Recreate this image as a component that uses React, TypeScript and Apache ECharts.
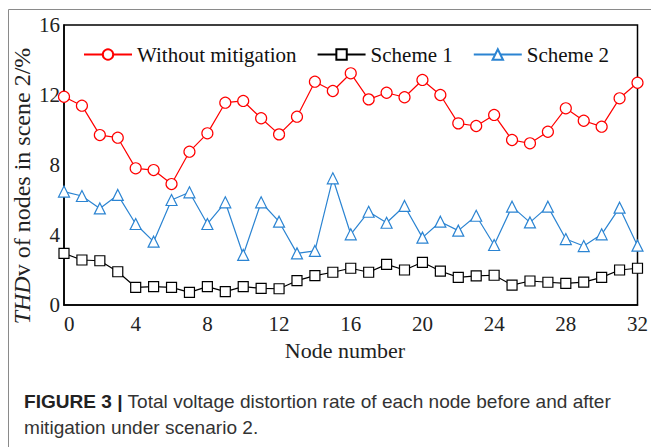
import React, { useEffect, useRef } from "react";
import * as echarts from "echarts";

const nodes = [0, 1, 2, 3, 4, 5, 6, 7, 8, 9, 10, 11, 12, 13, 14, 15, 16, 17, 18, 19, 20, 21, 22, 23, 24, 25, 26, 27, 28, 29, 30, 31, 32];

const withoutMitigation = [11.9, 11.39, 9.71, 9.56, 7.81, 7.71, 6.91, 8.76, 9.81, 11.56, 11.66, 10.67, 9.75, 10.76, 12.76, 12.23, 13.24, 11.75, 12.13, 11.87, 12.86, 12.0, 10.38, 10.23, 10.86, 9.43, 9.24, 9.9, 11.24, 10.53, 10.19, 11.81, 12.7];

const scheme1 = [2.95, 2.57, 2.53, 1.9, 1.01, 1.05, 1.01, 0.72, 1.05, 0.76, 1.05, 0.95, 0.93, 1.39, 1.68, 1.87, 2.1, 1.87, 2.32, 2.0, 2.44, 1.94, 1.58, 1.66, 1.7, 1.14, 1.37, 1.3, 1.24, 1.31, 1.58, 2.0, 2.1];

const scheme2 = [6.48, 6.23, 5.52, 6.29, 4.63, 3.62, 6.0, 6.44, 4.63, 5.87, 2.86, 5.87, 4.76, 2.95, 3.09, 7.24, 4.04, 5.33, 4.7, 5.66, 3.85, 4.76, 4.25, 5.1, 3.43, 5.62, 4.72, 5.62, 3.77, 3.37, 4.04, 5.56, 3.39];

const seriesNames = ["Without mitigation", "Scheme 1", "Scheme 2"];
const xTicks = { min: 0, max: 32, interval: 4 };
const yTicks = { min: 0, max: 16, interval: 4 };

const SERIF = "'Liberation Serif', 'Times New Roman', serif";
const SANS = "'Liberation Sans', Arial, sans-serif";

export default function App() {
  const ref = useRef<HTMLDivElement>(null);
  useEffect(() => {
    if (!ref.current) return;
    const chart = echarts.init(ref.current, null, { renderer: "svg" });
    const pair = (arr: number[]) => nodes.map((n, i) => [n, arr[i]]);
    const mk = (name: string, data: number[], color: string, symbol: string, size: number) => ({
      name,
      type: "line",
      data: pair(data),
      symbol,
      symbolSize: size,
      showAllSymbol: true,
      lineStyle: { color, width: 1.2 },
      itemStyle: { color: "#fff", borderColor: color, borderWidth: 1.2 },
      emphasis: { disabled: true },
      z: 3,
    });
    chart.setOption({
      animation: false,
      backgroundColor: "#fff",
      grid: {
        left: 64,
        right: 8,
        top: 25,
        bottom: 142,
        show: true,
        borderColor: "#000",
        borderWidth: 1.5,
        backgroundColor: "transparent",
      },
      legend: {
        data: seriesNames,
        left: 78,
        top: 39,
        itemWidth: 48,
        itemHeight: 13,
        itemGap: 20,
        textStyle: { fontFamily: SERIF, fontSize: 21, color: "#111" },
      },
      xAxis: {
        type: "value",
        min: xTicks.min,
        max: xTicks.max,
        interval: xTicks.interval,
        axisLine: { show: true, lineStyle: { color: "#000", width: 1.5 } },
        axisTick: { show: false },
        splitLine: { show: false },
        axisLabel: {
          margin: 8,
          fontFamily: SERIF,
          fontSize: 21,
          color: "#222",
          alignMinLabel: "left",
        },
      },
      yAxis: {
        type: "value",
        min: yTicks.min,
        max: yTicks.max,
        interval: yTicks.interval,
        axisLine: { show: true, lineStyle: { color: "#000", width: 1.5 } },
        axisTick: { show: false },
        splitLine: { show: false },
        axisLabel: { margin: 4, fontFamily: SERIF, fontSize: 21, color: "#222" },
      },
      series: [
        mk(seriesNames[0], withoutMitigation, "#ff0000", "circle", 11),
        mk(seriesNames[1], scheme1, "#000000", "rect", 10),
        mk(seriesNames[2], scheme2, "#2b84d2", "triangle", 11),
      ],
      graphic: [
        { type: "line", shape: { x1: 8.5, y1: 9.5, x2: 651, y2: 9.5 }, style: { stroke: "#8a8a8a", lineWidth: 1 } },
        { type: "line", shape: { x1: 8.5, y1: 9.5, x2: 8.5, y2: 447 }, style: { stroke: "#8a8a8a", lineWidth: 1 } },
        {
          type: "text",
          x: 22,
          y: 186,
          rotation: Math.PI / 2,
          style: {
            text: "{i|THD}v of nodes in scene 2/%",
            fontFamily: SERIF,
            fontSize: 24,
            fill: "#222",
            align: "center",
            verticalAlign: "middle",
            rich: { i: { fontStyle: "italic", fontFamily: SERIF, fontSize: 24, fill: "#222" } },
          },
        },
        {
          type: "text",
          x: 345,
          y: 350,
          style: {
            text: "Node number",
            fontFamily: SERIF,
            fontSize: 22,
            fill: "#222",
            align: "center",
            verticalAlign: "middle",
          },
        },
        {
          type: "text",
          x: 24,
          y: 389,
          scaleX: 1.06,
          style: {
            text: "{b|FIGURE 3 |} Total voltage distortion rate of each node before and after\nmitigation under scenario 2.",
            fontFamily: SANS,
            fontSize: 18,
            lineHeight: 26,
            fill: "#333",
            align: "left",
            verticalAlign: "top",
            rich: {
              b: { fontWeight: "bold", fontFamily: SANS, fontSize: 18, fill: "#222", lineHeight: 26 },
            },
          },
        },
      ],
    });
    return () => chart.dispose();
  }, []);
  return (
    <div
      ref={ref}
      style={{ position: "absolute", left: 0, top: 0, width: 651, height: 447, background: "#fff" }}
    />
  );
}
